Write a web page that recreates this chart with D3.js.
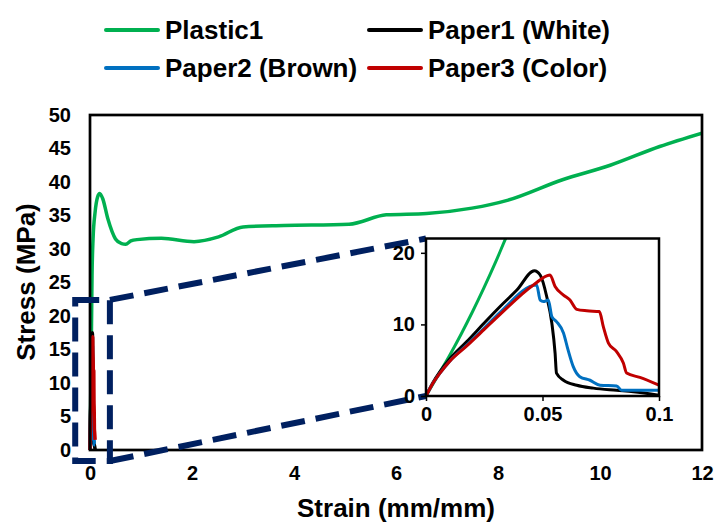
<!DOCTYPE html>
<html>
<head>
<meta charset="utf-8">
<script src="https://cdn.jsdelivr.net/npm/d3@7"></script>
<style>
  body { margin: 0; background: #fff; }
  text { font-family: "Liberation Sans", Arial, sans-serif; font-weight: bold; fill: #000; }
</style>
</head>
<body>
<div id="chart"></div>
<script>
// Series names and colours
var seriesNames = ['Plastic1', 'Paper1 (White)', 'Paper2 (Brown)', 'Paper3 (Color)'];
var seriesColors = ['#00b050', '#000000', '#0070c0', '#c00000'];

// Plastic1: strain (mm/mm) and stress (MPa)
var plasticStrain = [0, 0.005, 0.01, 0.015, 0.02, 0.025, 0.03, 0.035, 0.04, 0.06, 0.1, 0.15, 0.19, 0.25, 0.35, 0.5, 0.62, 0.7, 0.8, 0.92, 1.4, 2.04, 2.52, 3.0, 3.8, 5.08, 5.81, 6.6, 7.49, 8.2, 9.25, 10.2, 11.17, 12.0];
var plasticStress = [0, 2.8, 5.6, 8.6, 11.8, 15.2, 18.8, 22.6, 26, 31.5, 35.5, 37.8, 38.3, 37.5, 34.5, 31.5, 30.8, 30.7, 31.2, 31.4, 31.6, 31.1, 31.8, 33.3, 33.5, 33.7, 35.1, 35.3, 36.1, 37.3, 40.3, 42.5, 45.3, 47.3];

// Paper1 (White)
var paper1Strain = [0, 0.003, 0.006, 0.01, 0.0175, 0.025, 0.0318, 0.039, 0.0465, 0.049, 0.0518, 0.054, 0.0554, 0.056, 0.059, 0.0647, 0.0718, 0.0818, 0.089, 0.1];
var paper1Stress = [0, 1.9, 3.4, 5.1, 7.6, 10.2, 12.5, 14.8, 17.5, 16.9, 13.9, 10.2, 6.0, 3.2, 2.2, 1.5, 1.1, 0.8, 0.6, 0.1];

// Paper2 (Brown)
var paper2Strain = [0, 0.003, 0.006, 0.01, 0.0175, 0.025, 0.0318, 0.0475, 0.049, 0.0504, 0.0525, 0.054, 0.056, 0.059, 0.061, 0.0632, 0.066, 0.0704, 0.0747, 0.0818, 0.084, 0.1];
var paper2Stress = [0, 1.8, 3.2, 4.8, 7.1, 9.5, 11.7, 15.5, 13.4, 13.2, 13.4, 11.1, 10.4, 8.8, 6.4, 4.1, 2.7, 2.2, 1.5, 1.4, 0.8, 0.8];

// Paper3 (Color)
var paper3Strain = [0, 0.003, 0.006, 0.01, 0.0175, 0.025, 0.0318, 0.0461, 0.0532, 0.0554, 0.059, 0.0618, 0.0647, 0.069, 0.0744, 0.0761, 0.0783, 0.0818, 0.0847, 0.0861, 0.0918, 0.1];
var paper3Stress = [0, 1.8, 3.2, 4.8, 7.0, 9.3, 11.4, 15.5, 16.9, 15.3, 14.1, 13.4, 12.1, 11.9, 11.8, 9.7, 7.4, 6.2, 4.6, 3.2, 2.6, 1.5];

// Tick labels
var mainXTicks = [0, 2, 4, 6, 8, 10, 12];
var mainYTicks = [0, 5, 10, 15, 20, 25, 30, 35, 40, 45, 50];
var insetXTicks = [0, 0.05, 0.1];
var insetYTicks = [0, 10, 20];

// Zoomed region shown on the main chart (strain, stress)
var zoomBoxX = [-0.29, 0.39];
var zoomBoxY = [-1.65, 22.4];

function zipSeries(xs, ys) {
    return xs.map(function(x, i) { return { x: x, y: ys[i] }; });
}

var allSeries = [
    zipSeries(plasticStrain, plasticStress),
    zipSeries(paper1Strain, paper1Stress),
    zipSeries(paper2Strain, paper2Stress),
    zipSeries(paper3Strain, paper3Stress)
];

var svgWidth = 716;
var svgHeight = 525;

var svg = d3.select('#chart')
    .append('svg')
    .attr('width', svgWidth)
    .attr('height', svgHeight);

// Main chart area
var main = { left: 90, right: 702, top: 115, bottom: 450 };

var xScale = d3.scaleLinear().domain([0, 12]).range([main.left, main.right]);
var yScale = d3.scaleLinear().domain([0, 50]).range([main.bottom, main.top]);

var defs = svg.append('defs');
defs.append('clipPath').attr('id', 'mainClip')
    .append('rect')
    .attr('x', main.left - 2).attr('y', main.top)
    .attr('width', main.right - main.left + 2).attr('height', main.bottom - main.top + 2);

// Main axes (labels only, no tick marks)
var xAxis = d3.axisBottom(xScale).tickValues(mainXTicks).tickSize(0).tickPadding(16);
var yAxis = d3.axisLeft(yScale).tickValues(mainYTicks).tickSize(0).tickPadding(19);

svg.append('g')
    .attr('transform', 'translate(0,' + main.bottom + ')')
    .call(xAxis)
    .call(function(g) { g.select('.domain').remove(); })
    .selectAll('text').style('font-size', '20px');

svg.append('g')
    .attr('transform', 'translate(' + main.left + ',0)')
    .call(yAxis)
    .call(function(g) { g.select('.domain').remove(); })
    .selectAll('text').style('font-size', '20px');

// Lines
var mainLine = d3.line()
    .x(function(d) { return xScale(d.x); })
    .y(function(d) { return yScale(d.y); })
    .curve(d3.curveMonotoneX);

svg.append('g')
    .attr('clip-path', 'url(#mainClip)')
    .selectAll('path')
    .data(allSeries)
    .enter()
    .append('path')
    .attr('d', mainLine)
    .attr('fill', 'none')
    .attr('stroke', function(d, i) { return seriesColors[i]; })
    .attr('stroke-width', 3.5)
    .attr('stroke-linejoin', 'round');

// Main frame
svg.append('rect')
    .attr('x', main.left).attr('y', main.top)
    .attr('width', main.right - main.left).attr('height', main.bottom - main.top)
    .attr('fill', 'none')
    .attr('stroke', '#000')
    .attr('stroke-width', 2.7);

// Inset chart
var inset = { left: 426, right: 659, top: 238.5, bottom: 396 };

var xInset = d3.scaleLinear().domain([0, 0.1]).range([inset.left, inset.right]);
var yInset = d3.scaleLinear().domain([0, 22]).range([inset.bottom, inset.top]);

// Zoom box and connector lines
var navy = '#002060';
var dash = '24,11';
var bx0 = xScale(zoomBoxX[0]), bx1 = xScale(zoomBoxX[1]);
var by0 = yScale(zoomBoxY[1]), by1 = yScale(zoomBoxY[0]);

svg.append('rect')
    .attr('x', bx0).attr('y', by0)
    .attr('width', bx1 - bx0).attr('height', by1 - by0)
    .attr('fill', 'none')
    .attr('stroke', navy)
    .attr('stroke-width', 6)
    .attr('stroke-dasharray', dash);

svg.append('line')
    .attr('x1', bx1).attr('y1', by0)
    .attr('x2', inset.left).attr('y2', inset.top)
    .attr('stroke', navy).attr('stroke-width', 6).attr('stroke-dasharray', dash);

svg.append('line')
    .attr('x1', bx1).attr('y1', by1)
    .attr('x2', inset.left).attr('y2', inset.bottom)
    .attr('stroke', navy).attr('stroke-width', 6).attr('stroke-dasharray', dash);

// Inset background
svg.append('rect')
    .attr('x', inset.left).attr('y', inset.top)
    .attr('width', inset.right - inset.left).attr('height', inset.bottom - inset.top)
    .attr('fill', '#fff');

defs.append('clipPath').attr('id', 'insetClip')
    .append('rect')
    .attr('x', inset.left).attr('y', inset.top)
    .attr('width', inset.right - inset.left).attr('height', inset.bottom - inset.top + 2);

var insetLine = d3.line()
    .x(function(d) { return xInset(d.x); })
    .y(function(d) { return yInset(d.y); })
    .curve(d3.curveMonotoneX);

svg.append('g')
    .attr('clip-path', 'url(#insetClip)')
    .selectAll('path')
    .data(allSeries)
    .enter()
    .append('path')
    .attr('d', insetLine)
    .attr('fill', 'none')
    .attr('stroke', function(d, i) { return seriesColors[i]; })
    .attr('stroke-width', 3)
    .attr('stroke-linejoin', 'round');

svg.append('rect')
    .attr('x', inset.left).attr('y', inset.top)
    .attr('width', inset.right - inset.left).attr('height', inset.bottom - inset.top)
    .attr('fill', 'none')
    .attr('stroke', '#000')
    .attr('stroke-width', 2.5);

// Inset axes with short outer ticks
var xInsetAxis = d3.axisBottom(xInset).tickValues(insetXTicks).tickSize(5).tickPadding(6)
    .tickFormat(function(d) { return d === 0 ? '0' : String(d); });
var yInsetAxis = d3.axisLeft(yInset).tickValues(insetYTicks).tickSize(5).tickPadding(6);

[svg.append('g').attr('transform', 'translate(0,' + inset.bottom + ')').call(xInsetAxis),
 svg.append('g').attr('transform', 'translate(' + inset.left + ',0)').call(yInsetAxis)]
    .forEach(function(g) {
        g.select('.domain').remove();
        g.selectAll('line').attr('stroke', '#000').attr('stroke-width', 1.5);
        g.selectAll('text').style('font-size', '20px');
    });

// Axis titles
svg.append('text')
    .attr('x', 396).attr('y', 517)
    .attr('text-anchor', 'middle')
    .style('font-size', '26px')
    .text('Strain (mm/mm)');

svg.append('text')
    .attr('transform', 'translate(35,282) rotate(-90)')
    .attr('text-anchor', 'middle')
    .style('font-size', '26px')
    .text('Stress (MPa)');

// Legend (2 x 2)
var legendX = [106, 369];
var legendY = [30, 68];

var legend = svg.append('g')
    .selectAll('g')
    .data(seriesNames)
    .enter()
    .append('g')
    .attr('transform', function(d, i) {
        return 'translate(' + legendX[i % 2] + ',' + legendY[Math.floor(i / 2)] + ')';
    });

legend.append('line')
    .attr('x1', 0).attr('x2', 52)
    .attr('stroke', function(d, i) { return seriesColors[i]; })
    .attr('stroke-width', 4)
    .attr('stroke-linecap', 'round');

legend.append('text')
    .attr('x', 59)
    .attr('dy', '0.35em')
    .style('font-size', '26px')
    .text(function(d) { return d; });
</script>
</body>
</html>
